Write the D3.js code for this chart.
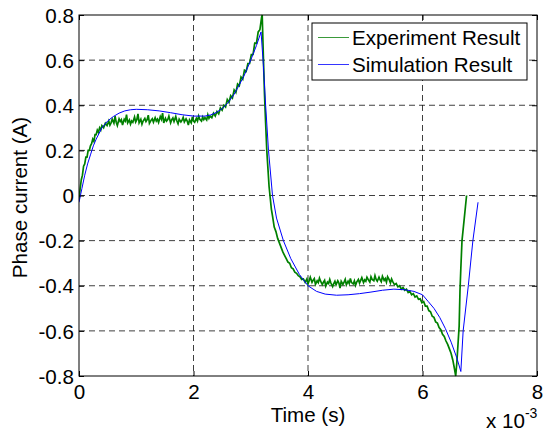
<!DOCTYPE html>
<html>
<head>
<meta charset="utf-8">
<script src="https://cdn.jsdelivr.net/npm/d3@7"></script>
<style>
  html, body { margin: 0; padding: 0; background: #fff; }
  svg { display: block; }
  text { font-family: "Liberation Sans", Arial, Helvetica, sans-serif; fill: #000; }
</style>
</head>
<body>
<svg id="chart" width="545" height="436"></svg>
<script>
// ---- Data (time in ms, i.e. x 10^-3 s; current in A) ----
const xTicks = [0, 2, 4, 6, 8];
const yTicks = [-0.8, -0.6, -0.4, -0.2, 0, 0.2, 0.4, 0.6, 0.8];
const yTickLabels = ["-0.8", "-0.6", "-0.4", "-0.2", "0", "0.2", "0.4", "0.6", "0.8"];
const seriesNames = ["Experiment Result", "Simulation Result"];

const experiment = [
  [0.00,-0.02],[0.02,0.03],[0.04,0.07],[0.06,0.09],[0.08,0.13],[0.10,0.14],[0.12,0.17],[0.14,0.17],
  [0.16,0.20],[0.18,0.20],[0.20,0.22],[0.22,0.23],[0.24,0.25],[0.26,0.24],[0.28,0.27],[0.30,0.27],
  [0.32,0.29],[0.34,0.28],[0.36,0.30],[0.38,0.29],[0.40,0.31],[0.43,0.30],[0.46,0.32],[0.49,0.31],
  [0.52,0.33],[0.54,0.312],[0.56,0.322],[0.58,0.338],[0.61,0.32],[0.63,0.352],[0.65,0.325],[0.67,0.31],
  [0.70,0.34],[0.72,0.328],[0.74,0.336],[0.76,0.312],[0.79,0.338],[0.81,0.33],[0.83,0.358],[0.85,0.322],
  [0.88,0.335],[0.90,0.316],[0.92,0.33],[0.94,0.324],[0.97,0.348],[0.99,0.326],[1.01,0.336],[1.03,0.362],
  [1.05,0.322],[1.08,0.338],[1.10,0.316],[1.12,0.33],[1.15,0.342],[1.17,0.328],[1.19,0.336],[1.21,0.356],
  [1.23,0.32],[1.26,0.334],[1.28,0.34],[1.30,0.325],[1.33,0.345],[1.35,0.33],[1.37,0.338],[1.39,0.324],
  [1.42,0.35],[1.44,0.338],[1.46,0.365],[1.48,0.322],[1.51,0.342],[1.53,0.33],[1.55,0.336],[1.57,0.352],
  [1.60,0.322],[1.62,0.336],[1.64,0.344],[1.66,0.328],[1.69,0.35],[1.71,0.33],[1.73,0.318],[1.75,0.338],
  [1.78,0.326],[1.80,0.334],[1.82,0.346],[1.84,0.326],[1.87,0.34],[1.89,0.33],[1.91,0.312],[1.93,0.335],
  [1.96,0.322],[1.98,0.348],[2.00,0.33],[2.02,0.325],[2.05,0.342],[2.07,0.33],[2.09,0.352],[2.11,0.338],
  [2.14,0.33],[2.16,0.348],[2.18,0.336],[2.20,0.345],[2.23,0.335],[2.25,0.358],[2.27,0.342],[2.29,0.352],
  [2.32,0.345],[2.35,0.365],[2.38,0.352],[2.41,0.372],[2.44,0.362],[2.47,0.388],[2.50,0.378],[2.53,0.40],
  [2.56,0.392],[2.59,0.425],[2.62,0.412],[2.65,0.442],[2.68,0.432],[2.71,0.468],[2.74,0.456],[2.77,0.494],
  [2.80,0.486],[2.83,0.525],[2.86,0.515],[2.89,0.555],[2.92,0.55],[2.95,0.585],[2.98,0.585],[3.01,0.625],
  [3.04,0.625],[3.07,0.675],[3.10,0.675],[3.13,0.725],[3.16,0.735],[3.19,0.79],[3.20,0.80],
  [3.22,0.62],[3.24,0.45],[3.26,0.32],[3.28,0.20],[3.30,0.12],[3.32,0.04],[3.34,-0.01],[3.36,-0.06],
  [3.38,-0.09],[3.41,-0.14],[3.44,-0.16],[3.47,-0.19],[3.50,-0.21],[3.53,-0.23],[3.56,-0.25],[3.59,-0.265],
  [3.62,-0.28],[3.65,-0.295],[3.68,-0.30],[3.71,-0.32],[3.74,-0.325],[3.77,-0.34],[3.80,-0.345],[3.83,-0.355],
  [3.86,-0.36],[3.89,-0.372],[3.92,-0.37],[3.95,-0.385],
  [3.98,-0.37],[4.00,-0.392],[4.02,-0.378],[4.04,-0.362],[4.07,-0.385],[4.09,-0.375],[4.11,-0.368],[4.13,-0.394],
  [4.16,-0.378],[4.18,-0.386],[4.20,-0.366],[4.22,-0.38],[4.25,-0.395],[4.27,-0.384],[4.29,-0.376],[4.31,-0.402],
  [4.34,-0.384],[4.36,-0.39],[4.38,-0.372],[4.40,-0.388],[4.43,-0.404],[4.45,-0.39],[4.47,-0.38],[4.49,-0.396],
  [4.52,-0.378],[4.54,-0.388],[4.56,-0.41],[4.58,-0.38],[4.61,-0.394],[4.63,-0.384],[4.65,-0.372],[4.67,-0.396],
  [4.70,-0.38],[4.72,-0.39],[4.74,-0.368],[4.76,-0.386],[4.79,-0.392],[4.81,-0.378],[4.83,-0.398],[4.85,-0.384],
  [4.88,-0.372],[4.90,-0.388],[4.92,-0.376],[4.94,-0.364],[4.97,-0.386],[4.99,-0.374],[5.01,-0.38],[5.03,-0.362],
  [5.06,-0.376],[5.08,-0.384],[5.10,-0.36],[5.12,-0.372],[5.15,-0.378],[5.17,-0.355],[5.19,-0.372],[5.21,-0.38],
  [5.24,-0.362],[5.26,-0.374],[5.28,-0.382],[5.30,-0.358],[5.33,-0.376],[5.35,-0.368],[5.37,-0.384],[5.39,-0.36],
  [5.42,-0.374],[5.44,-0.388],[5.46,-0.37],[5.48,-0.382],[5.51,-0.395],[5.54,-0.39],[5.57,-0.405],[5.60,-0.40],
  [5.63,-0.415],[5.66,-0.408],[5.69,-0.42],[5.72,-0.415],[5.75,-0.43],[5.78,-0.425],[5.81,-0.44],[5.84,-0.435],
  [5.87,-0.45],[5.90,-0.445],[5.93,-0.46],[5.96,-0.458],[5.99,-0.475],[6.02,-0.47],[6.05,-0.49],[6.08,-0.49],
  [6.11,-0.51],[6.14,-0.515],[6.17,-0.535],[6.20,-0.54],[6.23,-0.56],[6.26,-0.565],[6.29,-0.585],[6.32,-0.595],
  [6.35,-0.615],[6.38,-0.625],[6.41,-0.645],[6.44,-0.66],[6.47,-0.68],[6.50,-0.70],[6.53,-0.73],[6.56,-0.77],
  [6.58,-0.80],
  [6.60,-0.74],[6.62,-0.66],[6.64,-0.58],[6.655,-0.42],[6.67,-0.32],[6.69,-0.20],[6.71,-0.15],[6.73,-0.10],
  [6.75,-0.05],[6.77,0.00]
];

const simulation = [
  [0.00,-0.03],[0.05,0.03],[0.10,0.09],[0.15,0.14],[0.20,0.18],[0.25,0.22],[0.30,0.25],[0.40,0.30],
  [0.50,0.33],[0.60,0.35],[0.70,0.365],[0.80,0.375],[0.90,0.38],[1.00,0.382],[1.20,0.38],[1.40,0.375],
  [1.60,0.367],[1.80,0.358],[2.00,0.352],[2.20,0.352],[2.30,0.357],[2.40,0.368],[2.50,0.385],[2.60,0.41],
  [2.70,0.445],[2.80,0.49],[2.90,0.54],[3.00,0.60],[3.10,0.665],[3.18,0.725],[3.22,0.58],[3.26,0.40],
  [3.31,0.20],[3.38,0.00],[3.45,-0.10],[3.57,-0.20],[3.70,-0.28],[3.85,-0.35],[4.00,-0.40],[4.15,-0.425],
  [4.30,-0.437],[4.50,-0.442],[4.70,-0.44],[4.90,-0.435],[5.10,-0.428],[5.30,-0.42],[5.50,-0.415],[5.70,-0.418],
  [5.85,-0.425],[6.00,-0.44],[6.10,-0.47],[6.20,-0.50],[6.30,-0.54],[6.40,-0.59],[6.50,-0.65],[6.60,-0.72],
  [6.67,-0.78],[6.71,-0.60],[6.80,-0.40],[6.88,-0.20],[6.97,-0.03]
];

// ---- Layout ----
const svg = d3.select("#chart");
const L = 79, T = 15, R = 537, B = 376;
const x = d3.scaleLinear().domain([0, 8]).range([L, R]);
const y = d3.scaleLinear().domain([-0.8, 0.8]).range([B, T]);

const FONT = 20.6;

// Grid
const grid = svg.append("g").attr("class", "grid");
grid.selectAll("line.gx").data(xTicks.slice(1, -1)).join("line")
  .attr("x1", d => x(d)).attr("x2", d => x(d)).attr("y1", T).attr("y2", B)
  .attr("stroke", "#000").attr("stroke-width", 1).attr("stroke-dasharray", "6,4").attr("opacity", 0.75);
grid.selectAll("line.gy").data(yTicks.slice(1, -1)).join("line")
  .attr("x1", L).attr("x2", R).attr("y1", d => y(d)).attr("y2", d => y(d))
  .attr("stroke", "#000").attr("stroke-width", 1).attr("stroke-dasharray", "6,4").attr("opacity", 0.75);

// Clip
svg.append("clipPath").attr("id", "clip").append("rect")
  .attr("x", L).attr("y", T - 1).attr("width", R - L).attr("height", B - T + 2);

const line = d3.line().x(d => x(d[0])).y(d => y(d[1]));
const plot = svg.append("g").attr("clip-path", "url(#clip)");
plot.append("path").datum(experiment).attr("d", line)
  .attr("fill", "none").attr("stroke", "#008000").attr("stroke-width", 1.7).attr("stroke-linejoin", "miter");
plot.append("path").datum(simulation).attr("d", line)
  .attr("fill", "none").attr("stroke", "#0000ff").attr("stroke-width", 1);

// Axes (MATLAB style, ticks inward)
const axB = svg.append("g").attr("transform", `translate(0,${B})`)
  .call(d3.axisBottom(x).tickValues(xTicks).tickSize(-5).tickPadding(8).tickFormat(d3.format("d")));
const axL = svg.append("g").attr("transform", `translate(${L},0)`)
  .call(d3.axisLeft(y).tickValues(yTicks).tickSize(-5).tickPadding(5).tickFormat((d, i) => yTickLabels[i]));
const axT = svg.append("g").attr("transform", `translate(0,${T})`)
  .call(d3.axisTop(x).tickValues(xTicks).tickSize(-5).tickFormat(""));
const axR = svg.append("g").attr("transform", `translate(${R},0)`)
  .call(d3.axisRight(y).tickValues(yTicks).tickSize(-5).tickFormat(""));
[axB, axL, axT, axR].forEach(g => {
  g.select(".domain").remove();
  g.selectAll("line").attr("stroke", "#000");
  g.selectAll("text").attr("font-size", FONT).attr("font-family", "Liberation Sans, Arial, sans-serif").attr("fill", "#000");
});
axL.selectAll("text").attr("dy", "0.35em");
axB.selectAll("text").attr("dy", "0.71em");

// Box
svg.append("rect").attr("x", L).attr("y", T).attr("width", R - L).attr("height", B - T)
  .attr("fill", "none").attr("stroke", "#000").attr("stroke-width", 1);

// Axis labels
svg.append("text").attr("x", (L + R) / 2).attr("y", 422).attr("text-anchor", "middle")
  .attr("font-size", FONT).text("Time (s)");
svg.append("text").attr("transform", `translate(27,${(T + B) / 2 + 2}) rotate(-90)`)
  .attr("text-anchor", "middle").attr("font-size", FONT).text("Phase current (A)");

// Exponent label
const ex = svg.append("text").attr("x", 486).attr("y", 428).attr("font-size", FONT);
ex.append("tspan").text("x 10");
ex.append("tspan").attr("dy", -10).attr("font-size", 14).text("-3");

// Legend
const lg = svg.append("g");
lg.append("rect").attr("x", 312).attr("y", 23).attr("width", 215).attr("height", 57)
  .attr("fill", "#fff").attr("stroke", "#000").attr("stroke-width", 1);
const legendColors = ["#3a9a3a", "#3535ff"];
seriesNames.forEach((name, i) => {
  const yy = 37.5 + i * 27;
  lg.append("line").attr("x1", 318).attr("x2", 349).attr("y1", yy).attr("y2", yy)
    .attr("stroke", legendColors[i]).attr("stroke-width", 1);
  lg.append("text").attr("x", 352).attr("y", yy).attr("dy", "0.35em")
    .attr("font-size", FONT).text(name);
});
</script>
</body>
</html>
